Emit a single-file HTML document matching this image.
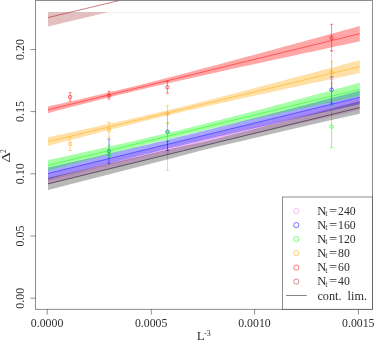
<!DOCTYPE html>
<html><head><meta charset="utf-8"><title>plot</title>
<style>
html,body{margin:0;padding:0;background:#fff;}
body{width:374px;height:341px;overflow:hidden;}
svg{display:block;}
.t{font-family:"Liberation Serif",serif;font-size:12px;fill:#2e2e2e;}
</style></head><body>
<svg width="374" height="341" viewBox="0 0 374 341">
<rect x="0" y="0" width="374" height="341" fill="#fff"/>
<defs><filter id="noop" x="0" y="0" width="374" height="341" filterUnits="userSpaceOnUse"><feOffset dx="0" dy="0"/></filter><clipPath id="c"><rect x="35.5" y="0.6" width="336.9" height="308.7"/></clipPath></defs>
<g clip-path="url(#c)">
<polygon points="48,173.8 86,164.53 130,153.79 175,142.8 205,135.48 245,125.72 285,115.96 330,104.97 359.8,97.7 359.8,110.05 330,116.64 285,126.65 245,135.84 205,145.43 175,152.77 130,163.88 86,174.75 48,184.15" fill="#ee82ee" fill-opacity="0.35"/>
<line x1="48.0" y1="180.2" x2="359.8" y2="101.3" stroke="#ee82ee" stroke-width="0.55" stroke-opacity="0.88"/>
<g stroke="#ee82ee" stroke-opacity="0.63" stroke-width="0.75" fill="none"><line x1="167.5" y1="114.5" x2="167.5" y2="170.3"/><line x1="166.0" y1="114.5" x2="169.0" y2="114.5"/><line x1="166.0" y1="170.3" x2="169.0" y2="170.3"/><circle cx="167.5" cy="151.8" r="1.75" stroke-width="0.75" stroke-opacity="0.72"/></g>
<g stroke="#ee82ee" stroke-opacity="0.63" stroke-width="0.75" fill="none"><line x1="331.6" y1="50.7" x2="331.6" y2="105.1"/><line x1="330.1" y1="50.7" x2="333.1" y2="50.7"/><line x1="330.1" y1="105.1" x2="333.1" y2="105.1"/><circle cx="331.6" cy="77.9" r="1.75" stroke-width="0.75" stroke-opacity="0.72"/></g>
<polygon points="48.0,167.56 55.8,165.80 63.6,164.03 71.4,162.26 79.2,160.48 87.0,158.70 94.8,156.91 102.6,155.11 110.4,153.30 118.2,151.48 126.0,149.66 133.7,147.83 141.5,145.98 149.3,144.13 157.1,142.27 164.9,140.39 172.7,138.51 180.5,136.61 188.3,134.71 196.1,132.79 203.9,130.86 211.7,128.92 219.5,126.97 227.3,125.02 235.1,123.05 242.9,121.07 250.7,119.08 258.5,117.09 266.3,115.08 274.1,113.07 281.9,111.05 289.6,109.03 297.4,107.00 305.2,104.96 313.0,102.92 320.8,100.87 328.6,98.82 336.4,96.77 344.2,94.71 352.0,92.64 359.8,90.58 359.8,104.22 352.0,105.96 344.2,107.70 336.4,109.45 328.6,111.20 320.8,112.95 313.0,114.71 305.2,116.47 297.4,118.24 289.6,120.02 281.9,121.80 274.1,123.58 266.3,125.38 258.5,127.18 250.7,128.99 242.9,130.81 235.1,132.63 227.3,134.47 219.5,136.32 211.7,138.17 203.9,140.04 196.1,141.92 188.3,143.80 180.5,145.70 172.7,147.61 164.9,149.53 157.1,151.46 149.3,153.40 141.5,155.36 133.7,157.32 126.0,159.29 118.2,161.27 110.4,163.26 102.6,165.26 94.8,167.26 87.0,169.28 79.2,171.30 71.4,173.32 63.6,175.36 55.8,177.39 48.0,179.44" fill="#0000ff" fill-opacity="0.35"/>
<line x1="48.0" y1="173.5" x2="359.8" y2="97.4" stroke="#0000ff" stroke-width="0.55" stroke-opacity="0.88"/>
<g stroke="#0000ff" stroke-opacity="0.63" stroke-width="0.75" fill="none"><line x1="109" y1="139.1" x2="109" y2="163.6"/><line x1="107.5" y1="139.1" x2="110.5" y2="139.1"/><line x1="107.5" y1="163.6" x2="110.5" y2="163.6"/><circle cx="109" cy="151.3" r="1.75" stroke-width="0.75" stroke-opacity="0.72"/></g>
<g stroke="#0000ff" stroke-opacity="0.63" stroke-width="0.75" fill="none"><line x1="167.5" y1="141.2" x2="167.5" y2="150.5"/><line x1="166.0" y1="141.2" x2="169.0" y2="141.2"/><line x1="166.0" y1="150.5" x2="169.0" y2="150.5"/><circle cx="167.5" cy="131.7" r="1.75" stroke-width="0.75" stroke-opacity="0.72"/></g>
<g stroke="#0000ff" stroke-opacity="0.63" stroke-width="0.75" fill="none"><line x1="331.6" y1="76.6" x2="331.6" y2="103.2"/><line x1="330.1" y1="76.6" x2="333.1" y2="76.6"/><line x1="330.1" y1="103.2" x2="333.1" y2="103.2"/><circle cx="331.6" cy="89.7" r="1.75" stroke-width="0.75" stroke-opacity="0.72"/></g>
<polygon points="48.0,160.12 55.8,158.42 63.6,156.71 71.4,154.99 79.2,153.27 87.0,151.55 94.8,149.81 102.6,148.07 110.4,146.31 118.2,144.55 126.0,142.77 133.7,140.98 141.5,139.17 149.3,137.35 157.1,135.51 164.9,133.66 172.7,131.78 180.5,129.88 188.3,127.97 196.1,126.03 203.9,124.08 211.7,122.10 219.5,120.11 227.3,118.11 235.1,116.09 242.9,114.06 250.7,112.01 258.5,109.96 266.3,107.90 274.1,105.82 281.9,103.74 289.6,101.66 297.4,99.56 305.2,97.47 313.0,95.36 320.8,93.26 328.6,91.15 336.4,89.04 344.2,86.92 352.0,84.80 359.8,82.68 359.8,95.92 352.0,97.61 344.2,99.29 336.4,100.98 328.6,102.67 320.8,104.37 313.0,106.07 305.2,107.77 297.4,109.48 289.6,111.19 281.9,112.91 274.1,114.63 266.3,116.36 258.5,118.11 250.7,119.86 242.9,121.62 235.1,123.39 227.3,125.18 219.5,126.98 211.7,128.79 203.9,130.62 196.1,132.47 188.3,134.34 180.5,136.23 172.7,138.14 164.9,140.07 157.1,142.02 149.3,143.98 141.5,145.97 133.7,147.97 126.0,149.98 118.2,152.01 110.4,154.05 102.6,156.10 94.8,158.16 87.0,160.23 79.2,162.31 71.4,164.39 63.6,166.48 55.8,168.58 48.0,170.68" fill="#00ff00" fill-opacity="0.35"/>
<line x1="48.0" y1="165.4" x2="359.8" y2="89.3" stroke="#00ff00" stroke-width="0.55" stroke-opacity="0.88"/>
<g stroke="#00ff00" stroke-opacity="0.63" stroke-width="0.75" fill="none"><line x1="109" y1="145.3" x2="109" y2="157.5"/><line x1="107.5" y1="145.3" x2="110.5" y2="145.3"/><line x1="107.5" y1="157.5" x2="110.5" y2="157.5"/><circle cx="109" cy="154.9" r="1.75" stroke-width="0.75" stroke-opacity="0.72"/></g>
<g stroke="#00ff00" stroke-opacity="0.63" stroke-width="0.75" fill="none"><line x1="167.5" y1="123.5" x2="167.5" y2="141.0"/><line x1="166.0" y1="123.5" x2="169.0" y2="123.5"/><line x1="166.0" y1="141.0" x2="169.0" y2="141.0"/><circle cx="167.5" cy="132.0" r="1.75" stroke-width="0.75" stroke-opacity="0.72"/></g>
<g stroke="#00ff00" stroke-opacity="0.63" stroke-width="0.75" fill="none"><line x1="331.6" y1="105.8" x2="331.6" y2="147.6"/><line x1="330.1" y1="105.8" x2="333.1" y2="105.8"/><line x1="330.1" y1="147.6" x2="333.1" y2="147.6"/><circle cx="331.6" cy="126.7" r="1.75" stroke-width="0.75" stroke-opacity="0.72"/></g>
<polygon points="48.0,137.29 55.8,135.60 63.6,133.91 71.4,132.21 79.2,130.50 87.0,128.79 94.8,127.06 102.6,125.33 110.4,123.58 118.2,121.82 126.0,120.05 133.7,118.26 141.5,116.45 149.3,114.62 157.1,112.77 164.9,110.90 172.7,109.01 180.5,107.09 188.3,105.16 196.1,103.21 203.9,101.24 211.7,99.26 219.5,97.26 227.3,95.25 235.1,93.23 242.9,91.20 250.7,89.16 258.5,87.11 266.3,85.06 274.1,83.00 281.9,80.93 289.6,78.87 297.4,76.79 305.2,74.72 313.0,72.64 320.8,70.56 328.6,68.48 336.4,66.39 344.2,64.31 352.0,62.22 359.8,60.13 359.8,73.07 352.0,74.73 344.2,76.39 336.4,78.06 328.6,79.72 320.8,81.39 313.0,83.06 305.2,84.73 297.4,86.41 289.6,88.08 281.9,89.77 274.1,91.45 266.3,93.14 258.5,94.84 250.7,96.54 242.9,98.25 235.1,99.97 227.3,101.70 219.5,103.44 211.7,105.19 203.9,106.96 196.1,108.74 188.3,110.54 180.5,112.36 172.7,114.19 164.9,116.05 157.1,117.93 149.3,119.83 141.5,121.75 133.7,123.69 126.0,125.65 118.2,127.63 110.4,129.62 102.6,131.62 94.8,133.64 87.0,135.66 79.2,137.70 71.4,139.74 63.6,141.79 55.8,143.85 48.0,145.91" fill="#ffa500" fill-opacity="0.35"/>
<line x1="48.0" y1="141.6" x2="359.8" y2="66.6" stroke="#ffa500" stroke-width="0.55" stroke-opacity="0.88"/>
<g stroke="#ffa500" stroke-opacity="0.63" stroke-width="0.75" fill="none"><line x1="70.1" y1="137.3" x2="70.1" y2="150.5"/><line x1="68.6" y1="137.3" x2="71.6" y2="137.3"/><line x1="68.6" y1="150.5" x2="71.6" y2="150.5"/><circle cx="70.1" cy="143.9" r="1.75" stroke-width="0.75" stroke-opacity="0.72"/></g>
<g stroke="#ffa500" stroke-opacity="0.63" stroke-width="0.75" fill="none"><line x1="109" y1="122.4" x2="109" y2="137.2"/><line x1="107.5" y1="122.4" x2="110.5" y2="122.4"/><line x1="107.5" y1="137.2" x2="110.5" y2="137.2"/><circle cx="109" cy="130.0" r="1.75" stroke-width="0.75" stroke-opacity="0.72"/></g>
<g stroke="#ffa500" stroke-opacity="0.63" stroke-width="0.75" fill="none"><line x1="167.5" y1="105.7" x2="167.5" y2="122.9"/><line x1="166.0" y1="105.7" x2="169.0" y2="105.7"/><line x1="166.0" y1="122.9" x2="169.0" y2="122.9"/><circle cx="167.5" cy="113.6" r="1.75" stroke-width="0.75" stroke-opacity="0.72"/></g>
<g stroke="#ffa500" stroke-opacity="0.63" stroke-width="0.75" fill="none"><line x1="331.6" y1="61.4" x2="331.6" y2="83.1"/><line x1="330.1" y1="61.4" x2="333.1" y2="61.4"/><line x1="330.1" y1="83.1" x2="333.1" y2="83.1"/><circle cx="331.6" cy="72.3" r="1.75" stroke-width="0.75" stroke-opacity="0.72"/></g>
<polygon points="48.0,106.43 55.8,104.69 63.6,102.93 71.4,101.17 79.2,99.40 87.0,97.60 94.8,95.79 102.6,93.97 110.4,92.12 118.2,90.24 126.0,88.35 133.7,86.43 141.5,84.49 149.3,82.52 157.1,80.54 164.9,78.53 172.7,76.51 180.5,74.48 188.3,72.43 196.1,70.37 203.9,68.30 211.7,66.23 219.5,64.14 227.3,62.05 235.1,59.96 242.9,57.86 250.7,55.76 258.5,53.65 266.3,51.54 274.1,49.43 281.9,47.31 289.6,45.19 297.4,43.07 305.2,40.95 313.0,38.83 320.8,36.70 328.6,34.58 336.4,32.45 344.2,30.33 352.0,28.20 359.8,26.07 359.8,41.33 352.0,43.01 344.2,44.68 336.4,46.36 328.6,48.04 320.8,49.72 313.0,51.40 305.2,53.08 297.4,54.77 289.6,56.45 281.9,58.14 274.1,59.83 266.3,61.52 258.5,63.22 250.7,64.91 242.9,66.62 235.1,68.32 227.3,70.03 219.5,71.75 211.7,73.47 203.9,75.20 196.1,76.93 188.3,78.68 180.5,80.44 172.7,82.21 164.9,83.99 157.1,85.79 149.3,87.61 141.5,89.45 133.7,91.32 126.0,93.20 118.2,95.11 110.4,97.04 102.6,99.00 94.8,100.98 87.0,102.97 79.2,104.98 71.4,107.01 63.6,109.06 55.8,111.11 48.0,113.17" fill="#ff0000" fill-opacity="0.35"/>
<line x1="48.0" y1="109.8" x2="359.8" y2="33.7" stroke="#ff0000" stroke-width="0.55" stroke-opacity="0.88"/>
<g stroke="#ff0000" stroke-opacity="0.63" stroke-width="0.75" fill="none"><line x1="70.1" y1="92.6" x2="70.1" y2="101.1"/><line x1="68.6" y1="92.6" x2="71.6" y2="92.6"/><line x1="68.6" y1="101.1" x2="71.6" y2="101.1"/><circle cx="70.1" cy="97.0" r="1.75" stroke-width="0.75" stroke-opacity="0.72"/></g>
<g stroke="#ff0000" stroke-opacity="0.63" stroke-width="0.75" fill="none"><line x1="109" y1="91.4" x2="109" y2="99.1"/><line x1="107.5" y1="91.4" x2="110.5" y2="91.4"/><line x1="107.5" y1="99.1" x2="110.5" y2="99.1"/><circle cx="109" cy="95.6" r="1.75" stroke-width="0.75" stroke-opacity="0.72"/></g>
<g stroke="#ff0000" stroke-opacity="0.63" stroke-width="0.75" fill="none"><line x1="167.4" y1="81.2" x2="167.4" y2="93.2"/><line x1="165.9" y1="81.2" x2="168.9" y2="81.2"/><line x1="165.9" y1="93.2" x2="168.9" y2="93.2"/><circle cx="167.4" cy="87.2" r="1.75" stroke-width="0.75" stroke-opacity="0.72"/></g>
<g stroke="#ff0000" stroke-opacity="0.63" stroke-width="0.75" fill="none"><line x1="331.6" y1="24.3" x2="331.6" y2="51.0"/><line x1="330.1" y1="24.3" x2="333.1" y2="24.3"/><line x1="330.1" y1="51.0" x2="333.1" y2="51.0"/><circle cx="331.6" cy="37.8" r="1.75" stroke-width="0.75" stroke-opacity="0.72"/></g>
<polygon points="48.0,12 108.9,12 48.0,26.4" fill="#a52a2a" fill-opacity="0.3"/>
<line x1="108.9" y1="12.4" x2="359.8" y2="12.4" stroke="#a52a2a" stroke-width="0.5" stroke-opacity="0.15"/>
<line x1="48.0" y1="17.6" x2="119.3" y2="0.5" stroke="#a52a2a" stroke-width="0.6"/>
<polygon points="48,177.65 86,168.95 130,158.48 175,147.97 205,141.43 245,131.14 285,121.05 325,110.57 359.8,101.35 359.8,113.75 325,121.57 285,130.65 245,140.14 205,149.43 175,157.57 130,169.08 86,180.15 48,190.05" fill="#000000" fill-opacity="0.28"/>
<line x1="48.0" y1="183.85" x2="359.8" y2="107.55" stroke="#000000" stroke-width="0.55" stroke-opacity="0.88"/>
</g>
<g filter="url(#noop)">
<rect x="35.5" y="0.6" width="336.9" height="308.7" fill="none" stroke="#000" stroke-width="0.8" stroke-opacity="0.56"/>
<line x1="47.2" y1="309.3" x2="47.2" y2="314.6" stroke="#000" stroke-width="0.8" stroke-opacity="0.56"/>
<text transform="translate(47.050000000000004,326.6) scale(0.985,1.06)" text-anchor="middle" class="t">0.0000</text>
<line x1="151.3" y1="309.3" x2="151.3" y2="314.6" stroke="#000" stroke-width="0.8" stroke-opacity="0.56"/>
<text transform="translate(151.15,326.6) scale(0.985,1.06)" text-anchor="middle" class="t">0.0005</text>
<line x1="254.6" y1="309.3" x2="254.6" y2="314.6" stroke="#000" stroke-width="0.8" stroke-opacity="0.56"/>
<text transform="translate(254.45,326.6) scale(0.985,1.06)" text-anchor="middle" class="t">0.0010</text>
<line x1="358.4" y1="309.3" x2="358.4" y2="314.6" stroke="#000" stroke-width="0.8" stroke-opacity="0.56"/>
<text transform="translate(358.25,326.6) scale(0.985,1.06)" text-anchor="middle" class="t">0.0015</text>
<line x1="30.5" y1="298.2" x2="35.5" y2="298.2" stroke="#000" stroke-width="0.8" stroke-opacity="0.56"/>
<text transform="translate(24.2,298.2) rotate(-90)" text-anchor="middle" class="t">0.00</text>
<line x1="30.5" y1="236.0" x2="35.5" y2="236.0" stroke="#000" stroke-width="0.8" stroke-opacity="0.56"/>
<text transform="translate(24.2,236.0) rotate(-90)" text-anchor="middle" class="t">0.05</text>
<line x1="30.5" y1="173.8" x2="35.5" y2="173.8" stroke="#000" stroke-width="0.8" stroke-opacity="0.56"/>
<text transform="translate(24.2,173.8) rotate(-90)" text-anchor="middle" class="t">0.10</text>
<line x1="30.5" y1="111.6" x2="35.5" y2="111.6" stroke="#000" stroke-width="0.8" stroke-opacity="0.56"/>
<text transform="translate(24.2,111.6) rotate(-90)" text-anchor="middle" class="t">0.15</text>
<line x1="30.5" y1="49.5" x2="35.5" y2="49.5" stroke="#000" stroke-width="0.8" stroke-opacity="0.56"/>
<text transform="translate(24.2,49.5) rotate(-90)" text-anchor="middle" class="t">0.20</text>
<text transform="translate(10,162.6) rotate(-90) scale(1.3,1.02)" text-anchor="start" class="t">Δ</text>
<text transform="translate(6.1,152.9) rotate(-90)" text-anchor="start" class="t" style="font-size:7.6px">2</text>
<text transform="translate(196.7,340.0) scale(1.1,1.0)" text-anchor="start" class="t">L</text>
<text transform="translate(204.2,336.1)" text-anchor="start" class="t" style="font-size:8px">-3</text>
<rect x="282.5" y="197.0" width="89.89999999999998" height="112.30000000000001" fill="#fff" stroke="#000" stroke-width="0.8" stroke-opacity="0.56"/>
<circle cx="296.3" cy="211.1" r="2.6" fill="none" stroke="#ee82ee" stroke-width="0.75" stroke-opacity="0.7"/>
<text transform="translate(317.2,214.6) scale(1.04,1.03)" text-anchor="start" class="t">N</text>
<text transform="translate(325.2,216.4)" text-anchor="start" class="t" style="font-size:8px">t</text>
<text x="328.9" y="214.8" class="t" textLength="8.2" lengthAdjust="spacingAndGlyphs">=</text>
<text transform="translate(338.0,214.9) scale(0.98,1.0)" text-anchor="start" class="t">240</text>
<circle cx="296.3" cy="225.1" r="2.6" fill="none" stroke="#0000ff" stroke-width="0.75" stroke-opacity="0.7"/>
<text transform="translate(317.2,228.6) scale(1.04,1.03)" text-anchor="start" class="t">N</text>
<text transform="translate(325.2,230.4)" text-anchor="start" class="t" style="font-size:8px">t</text>
<text x="328.9" y="228.8" class="t" textLength="8.2" lengthAdjust="spacingAndGlyphs">=</text>
<text transform="translate(338.0,228.9) scale(0.98,1.0)" text-anchor="start" class="t">160</text>
<circle cx="296.3" cy="239.1" r="2.6" fill="none" stroke="#00ff00" stroke-width="0.75" stroke-opacity="0.7"/>
<text transform="translate(317.2,242.6) scale(1.04,1.03)" text-anchor="start" class="t">N</text>
<text transform="translate(325.2,244.4)" text-anchor="start" class="t" style="font-size:8px">t</text>
<text x="328.9" y="242.8" class="t" textLength="8.2" lengthAdjust="spacingAndGlyphs">=</text>
<text transform="translate(338.0,242.9) scale(0.98,1.0)" text-anchor="start" class="t">120</text>
<circle cx="296.3" cy="253.1" r="2.6" fill="none" stroke="#ffa500" stroke-width="0.75" stroke-opacity="0.7"/>
<text transform="translate(317.2,256.6) scale(1.04,1.03)" text-anchor="start" class="t">N</text>
<text transform="translate(325.2,258.4)" text-anchor="start" class="t" style="font-size:8px">t</text>
<text x="328.9" y="256.8" class="t" textLength="8.2" lengthAdjust="spacingAndGlyphs">=</text>
<text transform="translate(338.0,256.9) scale(0.98,1.0)" text-anchor="start" class="t">80</text>
<circle cx="296.3" cy="267.6" r="2.6" fill="none" stroke="#ff0000" stroke-width="0.75" stroke-opacity="0.7"/>
<text transform="translate(317.2,271.1) scale(1.04,1.03)" text-anchor="start" class="t">N</text>
<text transform="translate(325.2,272.9)" text-anchor="start" class="t" style="font-size:8px">t</text>
<text x="328.9" y="271.3" class="t" textLength="8.2" lengthAdjust="spacingAndGlyphs">=</text>
<text transform="translate(338.0,271.4) scale(0.98,1.0)" text-anchor="start" class="t">60</text>
<circle cx="296.3" cy="281.6" r="2.6" fill="none" stroke="#a52a2a" stroke-width="0.75" stroke-opacity="0.7"/>
<text transform="translate(317.2,285.1) scale(1.04,1.03)" text-anchor="start" class="t">N</text>
<text transform="translate(325.2,286.9)" text-anchor="start" class="t" style="font-size:8px">t</text>
<text x="328.9" y="285.3" class="t" textLength="8.2" lengthAdjust="spacingAndGlyphs">=</text>
<text transform="translate(338.0,285.4) scale(0.98,1.0)" text-anchor="start" class="t">40</text>
<line x1="286" y1="295.5" x2="306.7" y2="295.5" stroke="#000" stroke-width="0.6" stroke-opacity="0.8"/>
<text x="317.4" y="299.5" class="t" word-spacing="3" textLength="49.6" lengthAdjust="spacingAndGlyphs">cont. lim.</text>
</g>
</svg>
</body></html>
